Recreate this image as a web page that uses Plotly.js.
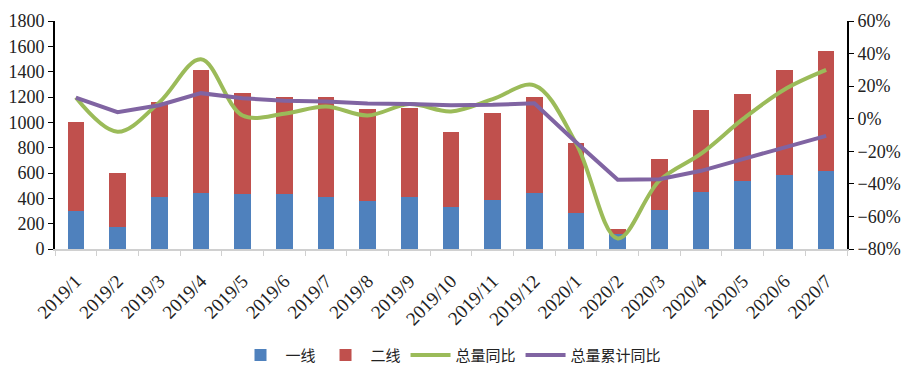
<!DOCTYPE html>
<html><head><meta charset="utf-8">
<script src="https://cdn.plot.ly/plotly-3.0.1.min.js"></script>
<style>html,body{margin:0;padding:0;background:#fff;}#chart{width:908px;height:382px;}</style>
</head><body><div id="chart"></div>
<script>
const categories = ["2019/1","2019/2","2019/3","2019/4","2019/5","2019/6","2019/7","2019/8","2019/9","2019/10","2019/11","2019/12","2020/1","2020/2","2020/3","2020/4","2020/5","2020/6","2020/7"];
const tier1 = [300,175,414,440,432,435,414,380,414,328,388,440,283,115,307,450,534,584,618];
const tier2 = [700,425,746,975,800,765,789,726,702,597,686,760,555,45,406,650,692,831,949];
const yoy = [0.13,-0.08,0.10,0.365,0.02,0.03,0.075,0.02,0.09,0.045,0.12,0.205,-0.15,-0.735,-0.38,-0.215,-0.003,0.18,0.30];
const cumYoy = [0.13,0.04,0.083,0.157,0.126,0.11,0.106,0.094,0.091,0.083,0.085,0.095,-0.145,-0.375,-0.372,-0.32,-0.248,-0.176,-0.105];

const serif = "'Liberation Serif', 'DejaVu Serif', serif";
const tickFont = {family: serif, size: 18, color: "#222"};
const xTickFont = {family: serif, size: 19, color: "#222"};
const traces = [
  {type:"bar", name:"一线", x:categories, y:tier1, marker:{color:"#4F81BD"}},
  {type:"bar", name:"二线", x:categories, y:tier2, marker:{color:"#C0504D"}},
  {type:"scatter", mode:"lines", name:"总量同比", x:categories, y:yoy, yaxis:"y2",
   line:{color:"#9BBB59", width:4, shape:"spline", smoothing:1}},
  {type:"scatter", mode:"lines", name:"总量累计同比", x:categories, y:cumYoy, yaxis:"y2",
   line:{color:"#8064A2", width:4}}
];
const layout = {
  width:908, height:382,
  margin:{l:55, r:61, t:21, b:132},
  barmode:"stack", bargap:0.6,
  paper_bgcolor:"#fff", plot_bgcolor:"#fff",
  showlegend:true,
  legend:{orientation:"h", x:0.5, xanchor:"center", y:-0.46, yanchor:"middle",
    font:{family:"'Noto Sans CJK SC'", size:15, color:"#222"}, itemwidth:40, traceorder:"normal"},
  xaxis:{type:"category", tickangle:-45, tickfont:xTickFont, showline:true, linecolor:"#d0d0d0", linewidth:1.5,
    ticks:"outside", tickson:"boundaries", ticklen:5, tickcolor:"#d0d0d0", showgrid:false, zeroline:false,
    ticklabelstandoff:12},
  yaxis:{range:[0,1800], dtick:200, tickfont:tickFont, showline:true, linecolor:"#000", linewidth:2,
    ticks:"outside", ticklen:5, tickcolor:"#000", showgrid:false, zeroline:false},
  yaxis2:{range:[-0.8,0.6], dtick:0.2, tickformat:".0%", overlaying:"y", side:"right", tickfont:tickFont,
    showline:true, linecolor:"#000", linewidth:2, ticks:"outside", ticklen:5, tickcolor:"#000", showgrid:false, zeroline:false}
};
Plotly.newPlot("chart", traces, layout, {displayModeBar:false, staticPlot:true});
</script></body></html>
